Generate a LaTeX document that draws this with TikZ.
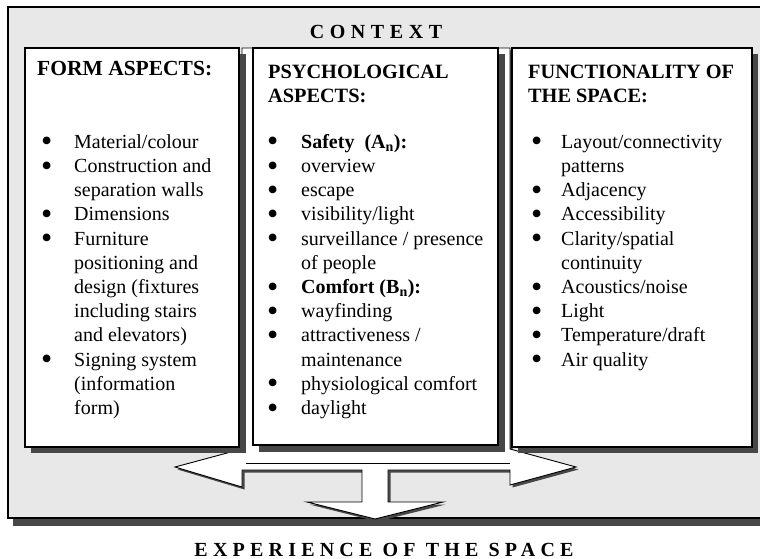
\documentclass[tikz,border=0pt]{standalone}
\usepackage{fontspec}
\setmainfont{Liberation Serif}
\usepackage{array}
\newcommand\blt{\smash{\raisebox{-3.6pt}{\scalebox{1.6}{\textbullet}}}}
\begin{document}
\begin{tikzpicture}[x=1pt,y=-1pt,
  shadowc/.style={fill=black!72,draw=none},
  boxc/.style={fill=white,draw=black,line width=1.1pt},
  arrowc/.style={fill=white,draw=black,line width=0.9pt,line join=miter},
  titlec/.style={anchor=north west,inner sep=0pt,font=\fontsize{20.3}{24.2}\selectfont\bfseries},
  bodyc/.style={anchor=north west,inner sep=0pt,font=\fontsize{20}{24.2}\selectfont},
  spacedc/.style={inner sep=0pt,anchor=base}
]
\useasboundingbox (0,0) rectangle (760,559);
\fill[white] (0,0) rectangle (760,559);
% context frame
\fill[shadowc] (13,518) rectangle (765,526);
\fill[black!9] (8,7) rectangle (765,518);
\draw[line width=1.1pt] (770,7) -- (8,7) -- (8,518) -- (770,518);
\node[spacedc] (context) at (376,39) {\fontsize{20}{22}\selectfont\bfseries\addfontfeatures{LetterSpace=28}CONTEXT};
\node[spacedc] (experience) at (384,556) {\fontsize{20}{22}\selectfont\bfseries\addfontfeatures{LetterSpace=26}EXPERIENCE OF THE SPACE};
% T arrow
\fill[shadowc] (244.5,50.5) -- (244.5,451.5) -- (177.5,469.5) -- (244.5,489.5) -- (244.5,472.5) -- (364.5,472.5) -- (364.5,504.5) -- (309.5,504.5) -- (377.5,521.5) -- (445.5,504.5) -- (390.5,504.5) -- (390.5,472.5) -- (512.5,472.5) -- (512.5,487.5) -- (578.5,469.5) -- (512.5,451.5) -- (512.5,50.5) -- cycle;
\draw[arrowc] (242,48) -- (242,449) -- (175,467) -- (242,487) -- (242,470) -- (362,470) -- (362,502) -- (307,502) -- (375,519) -- (443,502) -- (388,502) -- (388,470) -- (510,470) -- (510,485) -- (576,467) -- (510,449) -- (510,48) -- cycle;
\draw[line width=0.9pt] (246,463) -- (510,463);
% boxes
\fill[shadowc] (31,54) rectangle (246,453);
\draw[boxc] (25,48) rectangle (239,447);
\fill[shadowc] (259,54) rectangle (505,452);
\draw[boxc] (253,48) rectangle (498,445);
\fill[shadowc] (518,54) rectangle (758,453);
\draw[boxc] (512,48) rectangle (752,447);
% titles
\node[titlec,font=\fontsize{21.5}{24.2}\selectfont\bfseries] (t1) at (37,60.8) {FORM ASPECTS:};
\node[titlec] (t2) at (268,61.2) {\begin{tabular}{@{}l@{}}PSYCHOLOGICAL\\ASPECTS:\end{tabular}};
\node[titlec] (t3) at (528,61.2) {\begin{tabular}{@{}l@{}}FUNCTIONALITY OF\\THE SPACE:\end{tabular}};
% bodies
\node[bodyc] (b1) at (41,131.2) {\begin{tabular}{@{}p{33pt}@{}l@{}}
\blt & Material/colour\\
\blt & Construction and\\
 & separation walls\\
\blt & Dimensions\\
\blt & Furniture\\
 & positioning and\\
 & design (fixtures\\
 & including stairs\\
 & and elevators)\\
\blt & Signing system\\
 & (information\\
 & form)
\end{tabular}};
\node[bodyc] (b2) at (267,131.2) {\begin{tabular}{@{}p{34pt}@{}l@{}}
\blt & \textbf{Safety\ \ (A\textsubscript{n}):}\\
\blt & overview\\
\blt & escape\\
\blt & visibility/light\\
\blt & surveillance / presence\\
 & of people\\
\blt & \textbf{Comfort (B\textsubscript{n}):}\\
\blt & wayfinding\\
\blt & attractiveness /\\
 & maintenance\\
\blt & physiological comfort\\
\blt & daylight
\end{tabular}};
\node[bodyc] (b3) at (531,131.2) {\begin{tabular}{@{}p{30pt}@{}l@{}}
\blt & Layout/connectivity\\
 & patterns\\
\blt & Adjacency\\
\blt & Accessibility\\
\blt & Clarity/spatial\\
 & continuity\\
\blt & Acoustics/noise\\
\blt & Light\\
\blt & Temperature/draft\\
\blt & Air quality
\end{tabular}};
\end{tikzpicture}
\end{document}
